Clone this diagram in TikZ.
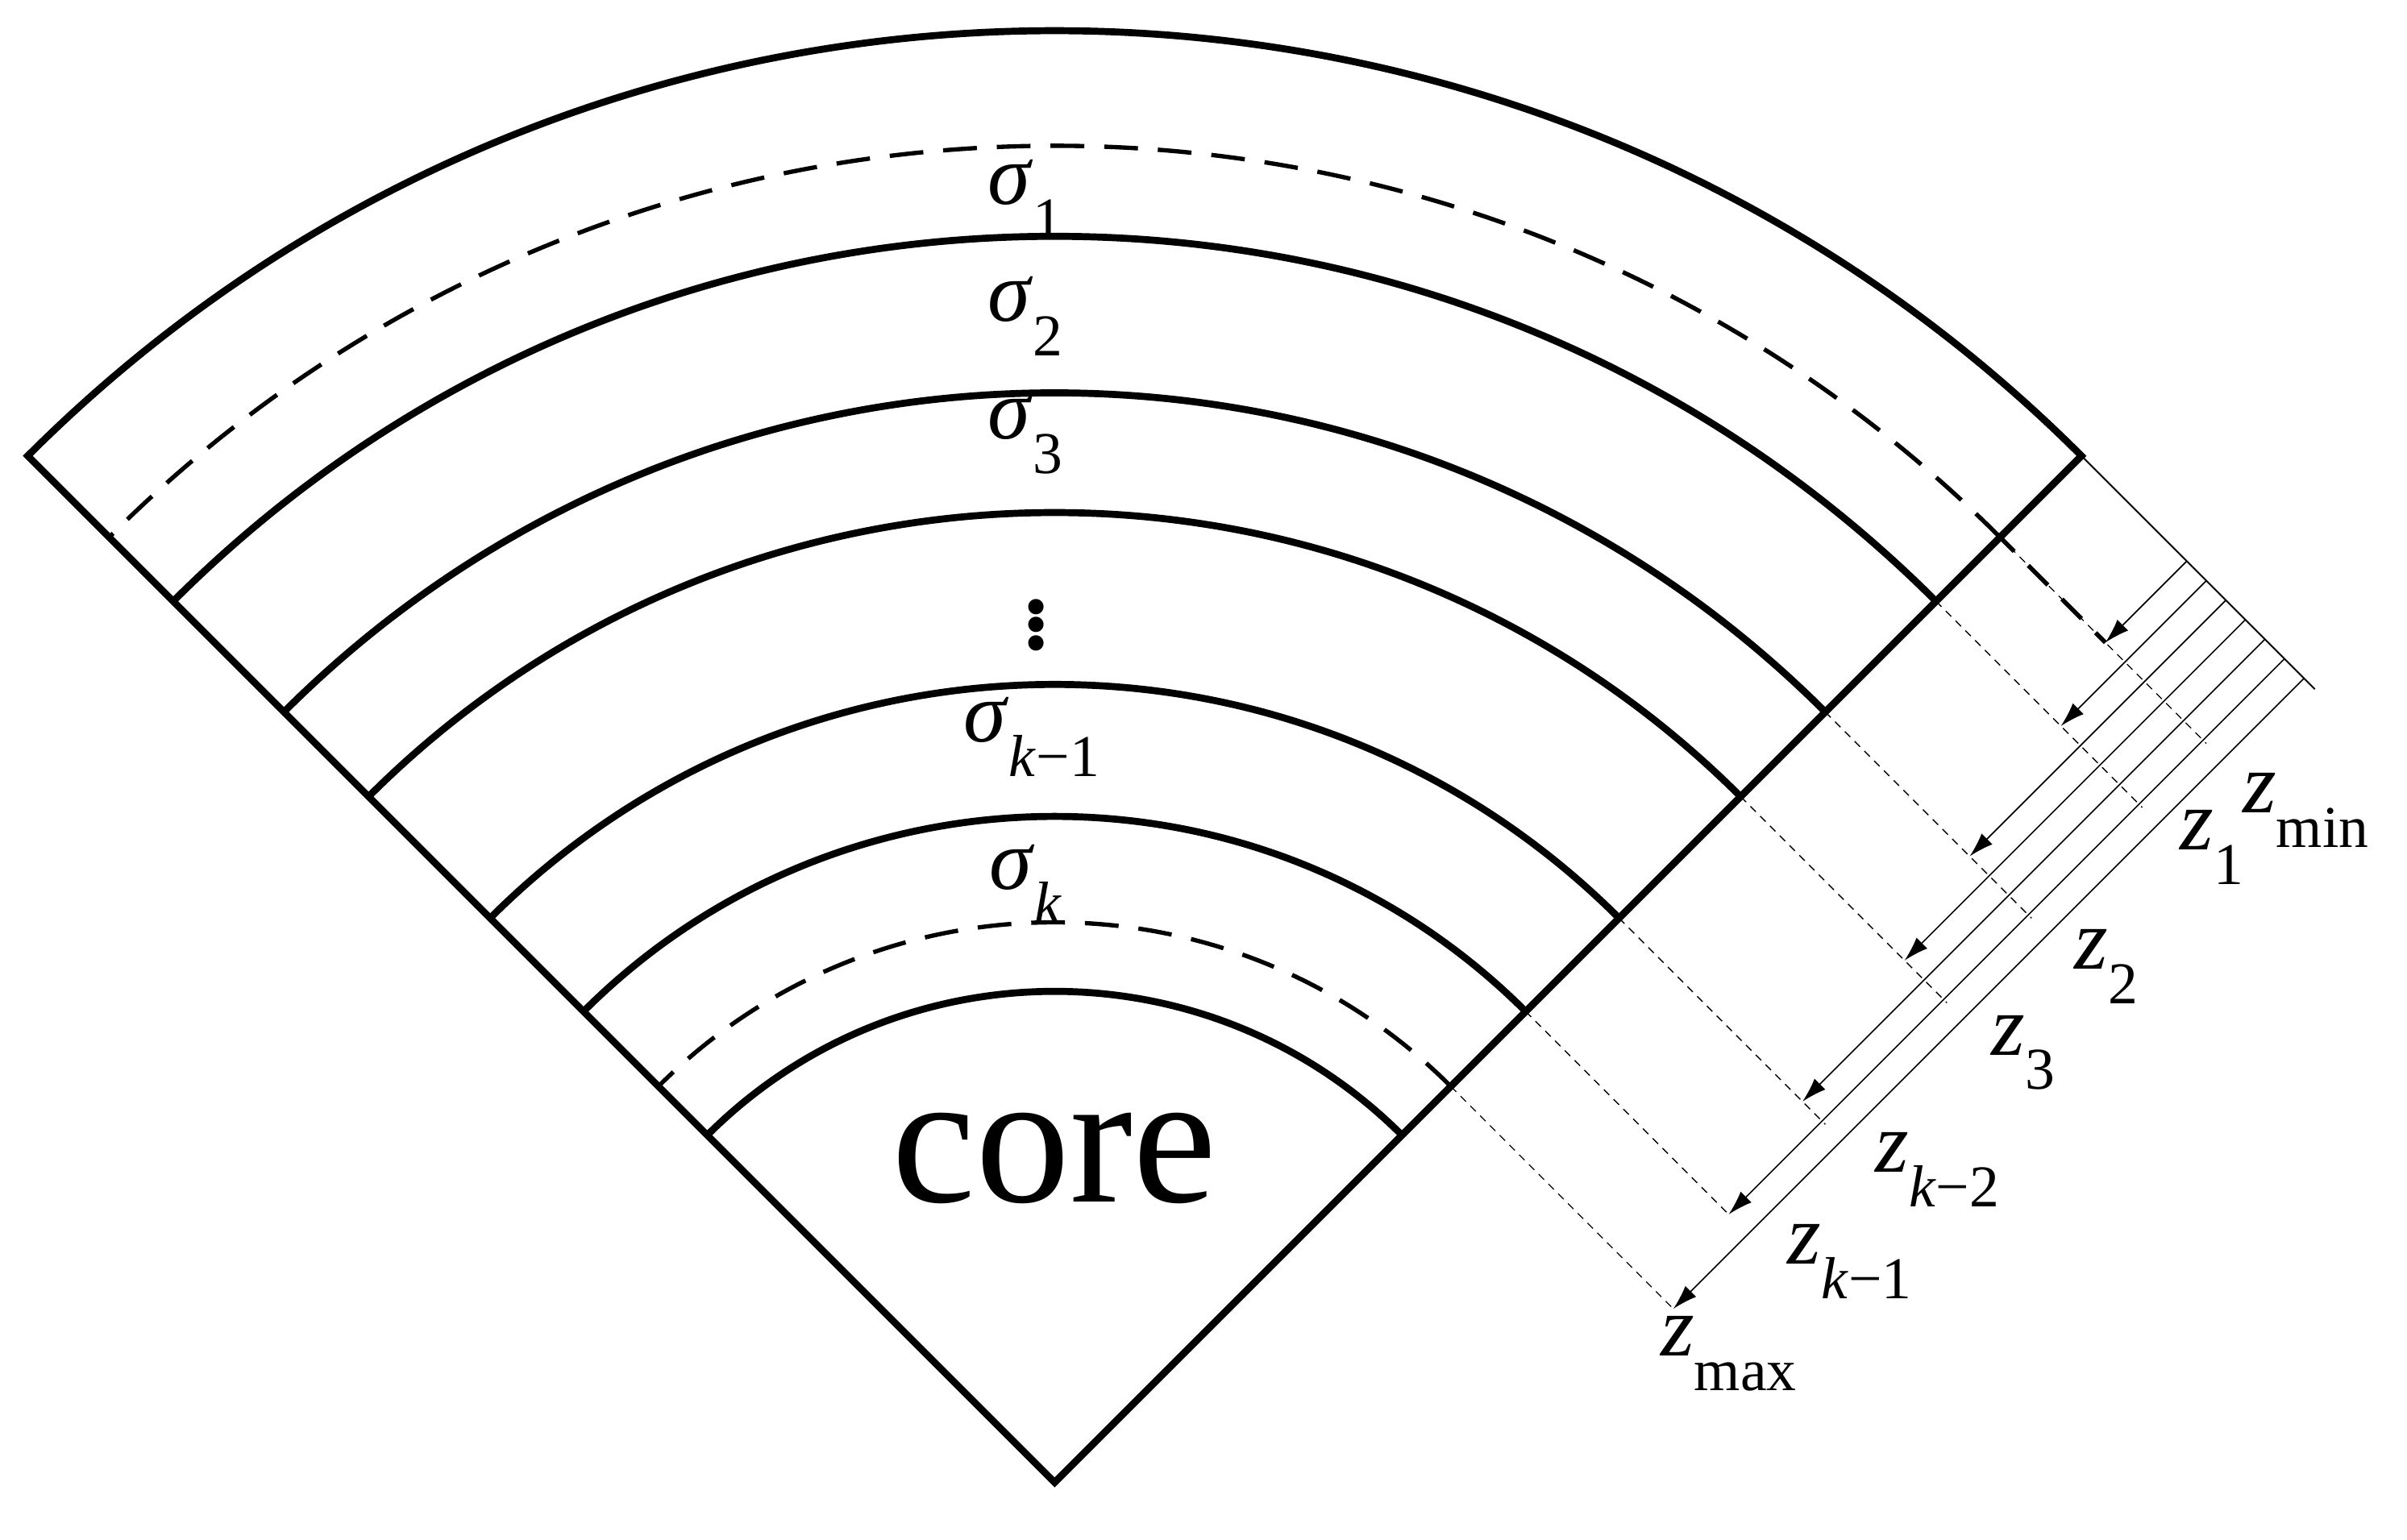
\documentclass[tikz,border=0pt]{standalone}
\usepackage{fontspec}
\setmainfont{Liberation Serif}
\usetikzlibrary{calc,arrows.meta}
\newcommand{\sbs}[1]{\raisebox{-0.4em}{\fontsize{22}{22}\selectfont #1}}
\begin{document}
\begin{tikzpicture}[x=0.02cm,y=0.02cm,
  thickline/.style={line width=2.6pt},
  bigdash/.style={line width=1.6pt,dash pattern=on 0.44cm off 0.26cm},
  thindash/.style={line width=0.4pt,dash pattern=on 0.1cm off 0.08cm},
  dimline/.style={line width=0.5pt,-{Latex[length=0.32cm,width=0.2cm]}},
  lab/.style={font=\fontsize{32}{32}\selectfont}]
\useasboundingbox (0,0) rectangle (1568,1003);
\coordinate (A) at (687,37);
\coordinate (L) at ($(A)+(135:946)$);
\coordinate (R) at ($(A)+(45:946)$);
% wedge
\draw[thickline,line join=miter] (A) -- (L) arc[start angle=135,end angle=45,radius=946] -- cycle;
\foreach \r in {812,710,632,520,434,320}
  \draw[thickline] ($(A)+(45:\r)$) arc[start angle=45,end angle=135,radius=\r];
\draw[bigdash] ($(A)+(45:871)$) arc[start angle=45,end angle=135,radius=871];
\draw[bigdash] ($(A)+(45:365)$) arc[start angle=45,end angle=135,radius=365];
% dimension baseline
\coordinate (B) at ($(R)+(-45:215)$);
\draw[line width=0.6pt] (R) -- (B);
\foreach \r/\v/\e [count=\i] in {871/97/190,812/115/190,710/133/190,632/151/190,520/169/190,434/187/187,365/205/205}{
  \coordinate (s\i) at ($(R)+(-45:\v)$);
  \coordinate (t\i) at ($(A)+(45:\r)+(-45:\v)$);
  \coordinate (e\i) at ($(A)+(45:\r)$);
  \coordinate (f\i) at ($(A)+(45:\r)+(-45:\e)$);
  \draw[thindash] (e\i) -- (f\i);
  \draw[dimline] (s\i) -- (t\i);
}
\draw[line width=1.6pt,dash pattern=on 0.36cm off 0.26cm,dash phase=0.1cm] (e1) -- (t1);
% sigma labels
\node[lab] (s1l) at (668,1003-130) {\textit{σ}\sbs{1}};
\node[lab] (s2l) at (668,1003-206) {\textit{σ}\sbs{2}};
\node[lab] (s3l) at (668,1003-283) {\textit{σ}\sbs{3}};
\node[font=\fontsize{48}{48}\selectfont] (dots) at (675,1003-402) {$\vdots$};
\node[lab] (skm) at (672,1003-480) {\textit{σ}\sbs{\textit{k}−1}};
\node[lab] (sk) at (668,1003-576) {\textit{σ}\sbs{\textit{k}}};
\node[font=\fontsize{70}{70}\selectfont] (core) at (687,1003-755) {core};
% z labels
\node[lab] (zmin) at (1502,1003-528) {\textit{z}\sbs{min}};
\node[lab] (z1) at (1441,1003-552) {\textit{z}\sbs{1}};
\node[lab] (z2) at (1372,1003-630) {\textit{z}\sbs{2}};
\node[lab] (z3) at (1318,1003-686) {\textit{z}\sbs{3}};
\node[lab] (zk2) at (1262,1003-762) {\textit{z}\sbs{\textit{k}−2}};
\node[lab] (zk1) at (1205,1003-822) {\textit{z}\sbs{\textit{k}−1}};
\node[lab] (zmax) at (1126,1003-882) {\textit{z}\sbs{max}};
\end{tikzpicture}
\end{document}
